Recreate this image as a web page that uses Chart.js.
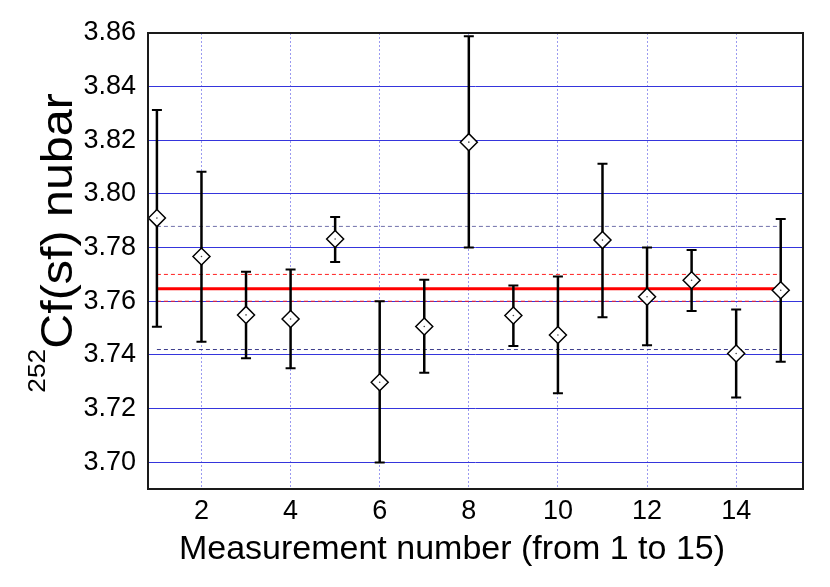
<!DOCTYPE html>
<html>
<head>
<meta charset="utf-8">
<script src="https://cdn.jsdelivr.net/npm/chart.js@4/dist/chart.umd.min.js"></script>
<style>
    body { margin: 0; background: #fff; }
    #wrap { width: 830px; height: 587px; }
</style>
</head>
<body>
<div id="wrap"><canvas id="nubarChart" width="830" height="587"></canvas></div>
<script>
const measurement = [1, 2, 3, 4, 5, 6, 7, 8, 9, 10, 11, 12, 13, 14, 15];
const nubar = [3.7910, 3.7767, 3.7549, 3.7534, 3.7832, 3.7298, 3.7506, 3.8193, 3.7547, 3.7474, 3.7828, 3.7617, 3.7678, 3.7405, 3.7641];
const errLow = [3.7505, 3.7449, 3.7387, 3.7350, 3.7746, 3.6999, 3.7333, 3.7800, 3.7433, 3.7257, 3.7540, 3.7436, 3.7564, 3.7241, 3.7374];
const errHigh = [3.8313, 3.8083, 3.7710, 3.7718, 3.7914, 3.7600, 3.7680, 3.8588, 3.7659, 3.7692, 3.8113, 3.7800, 3.7791, 3.7569, 3.7907];

// 参考线
const lineRange = [1, 15];
const meanValue = 3.7647;
const meanBand = [3.7600, 3.7700];
const spreadBand = [3.7420, 3.7879];

// 刻度
const xTickValues = [2, 4, 6, 8, 10, 12, 14];
const yTickValues = [3.70, 3.72, 3.74, 3.76, 3.78, 3.80, 3.82, 3.84, 3.86];

const xTitle = 'Measurement number (from 1 to 15)';
const yTitleSup = '252';
const yTitleMain = 'Cf(sf) nubar';

const points = measurement.map((m, i) => ({ x: m, y: nubar[i] }));
const hLine = v => lineRange.map(x => ({ x: x, y: v }));
const FONT = '"Liberation Sans", Arial, sans-serif';

/**
 * 误差棒：画在菱形点之前
 */
const errorBarPlugin = {
    id: 'errorBars',
    beforeDatasetDraw(chart, args) {
        if (args.index !== 1) return;
        const { ctx, scales: { x, y } } = chart;
        ctx.save();
        ctx.strokeStyle = '#000';
        measurement.forEach((m, i) => {
            const px = x.getPixelForValue(m);
            const top = y.getPixelForValue(errHigh[i]);
            const bottom = y.getPixelForValue(errLow[i]);
            ctx.lineWidth = 2.5;
            ctx.beginPath();
            ctx.moveTo(px, top);
            ctx.lineTo(px, bottom);
            ctx.stroke();
            ctx.lineWidth = 2;
            ctx.beginPath();
            ctx.moveTo(px - 5, top);
            ctx.lineTo(px + 5, top);
            ctx.moveTo(px - 5, bottom);
            ctx.lineTo(px + 5, bottom);
            ctx.stroke();
        });
        ctx.restore();
    }
};

/**
 * 边框和坐标轴标题（纵轴带上标）
 */
const framePlugin = {
    id: 'frame',
    afterDraw(chart) {
        const { ctx, chartArea: a } = chart;
        ctx.save();
        ctx.strokeStyle = '#1a1a1a';
        ctx.lineWidth = 2;
        ctx.strokeRect(a.left, a.top, a.right - a.left, a.bottom - a.top);

        // 横轴标题
        ctx.fillStyle = '#000';
        ctx.textAlign = 'center';
        ctx.textBaseline = 'middle';
        ctx.font = '34px ' + FONT;
        ctx.fillText(xTitle, 452, 550);
        ctx.restore();

        // 纵轴标题
        ctx.save();
        ctx.translate(72, 243);
        ctx.rotate(-Math.PI / 2);
        ctx.scale(1.1, 1);
        ctx.fillStyle = '#000';
        ctx.textAlign = 'left';
        ctx.textBaseline = 'alphabetic';
        ctx.font = '24px ' + FONT;
        const w1 = ctx.measureText(yTitleSup).width;
        ctx.font = '44px ' + FONT;
        const w2 = ctx.measureText(yTitleMain).width;
        const start = -(w1 + w2) / 2;
        ctx.fillText(yTitleMain, start + w1, 0);
        ctx.font = '24px ' + FONT;
        ctx.fillText(yTitleSup, start, -27);
        ctx.restore();
    }
};

new Chart(document.getElementById('nubarChart'), {
    type: 'scatter',
    data: {
        datasets: [
            {
                // 菱形中心的小点
                data: points,
                pointStyle: 'circle',
                pointRadius: 0.8,
                pointBackgroundColor: '#444',
                pointBorderWidth: 0
            },
            {
                label: 'nubar',
                data: points,
                pointStyle: 'rectRot',
                pointRadius: 8.5,
                pointBackgroundColor: '#fff',
                pointBorderColor: '#000',
                pointBorderWidth: 1.5
            },
            {
                data: hLine(meanValue),
                showLine: true,
                borderColor: '#ff0000',
                borderWidth: 3,
                pointRadius: 0
            },
            {
                data: hLine(meanBand[0]),
                showLine: true,
                borderColor: '#ff2020',
                borderWidth: 1,
                borderDash: [4, 3],
                pointRadius: 0
            },
            {
                data: hLine(meanBand[1]),
                showLine: true,
                borderColor: '#ff2020',
                borderWidth: 1,
                borderDash: [4, 3],
                pointRadius: 0
            },
            {
                data: hLine(spreadBand[0]),
                showLine: true,
                borderColor: '#3c3c8c',
                borderWidth: 1,
                borderDash: [4, 3],
                pointRadius: 0
            },
            {
                data: hLine(spreadBand[1]),
                showLine: true,
                borderColor: '#7070aa',
                borderWidth: 1,
                borderDash: [4, 3],
                pointRadius: 0
            }
        ]
    },
    options: {
        responsive: false,
        animation: false,
        layout: {
            padding: { top: 33, right: 27, left: 0, bottom: 0 }
        },
        plugins: {
            legend: { display: false },
            tooltip: { enabled: false }
        },
        scales: {
            x: {
                type: 'linear',
                min: 0.8,
                max: 15.5,
                afterBuildTicks: scale => {
                    scale.ticks = xTickValues.map(v => ({ value: v }));
                },
                afterFit: scale => { scale.height = 98; },
                border: { display: false, dash: [2, 2] },
                grid: {
                    color: '#9a9af0',
                    lineWidth: 1,
                    drawTicks: false
                },
                ticks: {
                    color: '#000',
                    padding: 6,
                    font: { family: FONT, size: 27 }
                }
            },
            y: {
                type: 'linear',
                min: 3.69,
                max: 3.86,
                afterBuildTicks: scale => {
                    scale.ticks = yTickValues.map(v => ({ value: v }));
                },
                afterFit: scale => { scale.width = 148; },
                border: { display: false },
                grid: {
                    color: ctx => (ctx.tick && ctx.tick.value >= 3.859 ? 'rgba(0,0,0,0)' : '#3535dc'),
                    lineWidth: 1,
                    drawTicks: false
                },
                ticks: {
                    color: '#000',
                    padding: 12,
                    font: { family: FONT, size: 27 },
                    callback: value => value.toFixed(2)
                }
            }
        }
    },
    plugins: [errorBarPlugin, framePlugin]
});
</script>
</body>
</html>
